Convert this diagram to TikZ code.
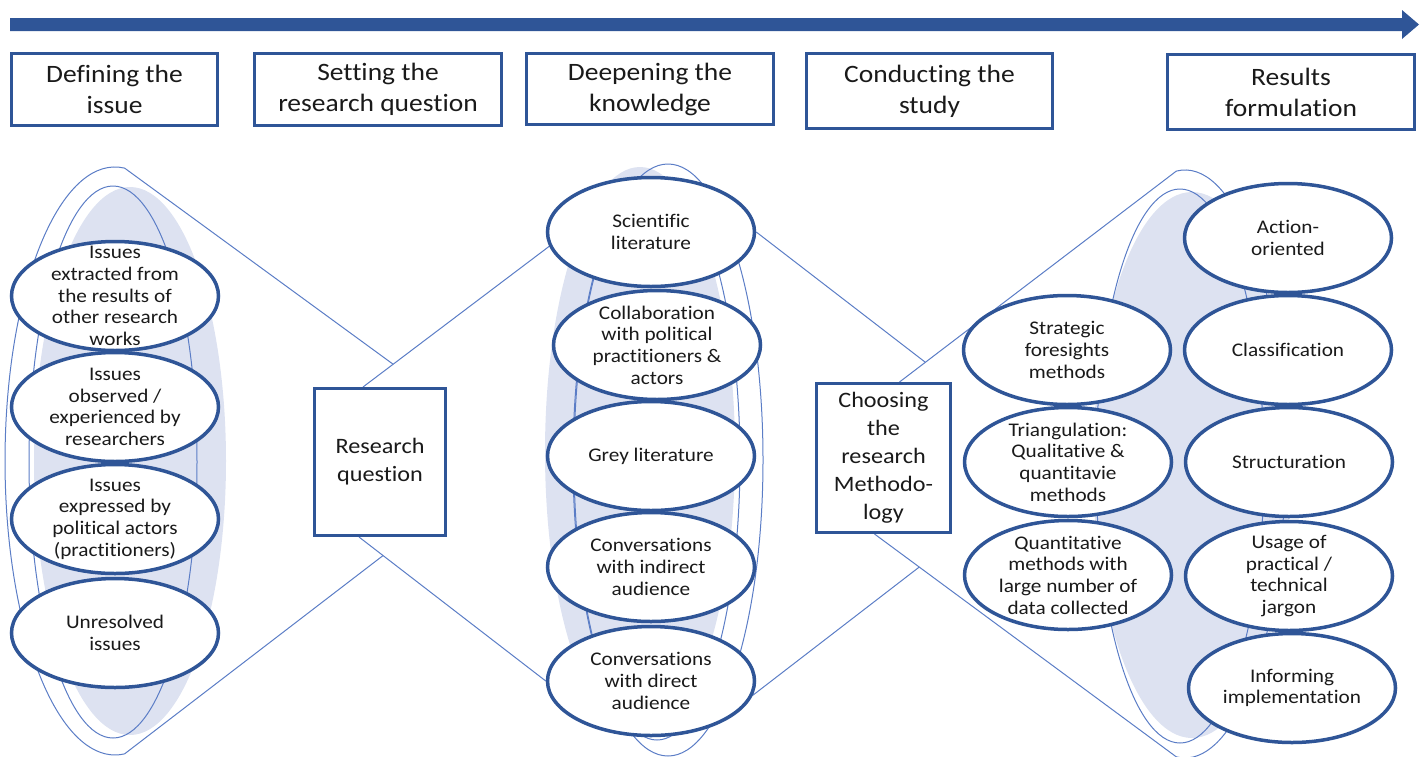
\documentclass[tikz,border=0pt]{standalone}
\usepackage{fontspec}
\setmainfont{Carlito}[FakeStretch=1.1, Ligatures=NoCommon]
\usetikzlibrary{shapes.geometric}
\definecolor{dkblue}{HTML}{2F5597}
\definecolor{thinblue}{HTML}{5B7DC6}
\definecolor{haze}{HTML}{DDE2F1}
\definecolor{ink}{HTML}{1A1A1A}
\pgfdeclarelayer{bg}
\pgfsetlayers{bg,main}
% an outlined bubble with its text set on top
\newcommand{\bubble}[3]{%
  \node[item] (#1) at (#2) {};
  \node[itemtext] at (#1.center) {#3};}
\begin{document}
\begin{tikzpicture}[x=1pt,y=-1pt,
  stagebox/.style={draw=dkblue, line width=3pt, fill=white, align=center,
    inner sep=0pt, text=ink, font=\fontsize{25}{31}\selectfont},
  stepbox/.style={draw=dkblue, line width=3pt, fill=white, align=center,
    inner sep=0pt, text=ink, font=\fontsize{22}{28}\selectfont},
  item/.style={ellipse, draw=dkblue, line width=3.5pt, fill=white,
    inner sep=0pt, minimum width=207pt, minimum height=109pt},
  itemtext/.style={align=center, inner sep=0pt, text=ink,
    font=\fontsize{19.3}{21.7}\selectfont},
  guide/.style={draw=thinblue, line width=1pt},
  halo/.style={fill=haze}]
\useasboundingbox (0,0) rectangle (1424,756);

% timeline arrow
\fill[dkblue] (10,18) -- (1402,18) -- (1402,10) -- (1419,24.5)
  -- (1402,39) -- (1402,31) -- (10,31) -- cycle;

% stage headings
\node[stagebox, minimum width=206pt, minimum height=72pt] (s1) at (114.5,89.5) {Defining the\\issue};
\node[stagebox, minimum width=247pt, minimum height=72pt] (s2) at (378,89.5) {Setting the\\research question};
\node[stagebox, minimum width=247pt, minimum height=71pt] (s3) at (650,89) {Deepening the\\knowledge};
\node[stagebox, minimum width=246pt, minimum height=75pt] (s4) at (929.5,91) {Conducting the\\study};
\node[stagebox, minimum width=247pt, minimum height=75pt] (s5) at (1291,92) {Results\\formulation};

% pivot boxes
\node[stepbox, minimum width=131pt, minimum height=147pt] (rq) at (380,462) {Research\\question};
\node[stepbox, minimum width=134pt, minimum height=149pt] (ch) at (883.5,458) {Choosing\\the\\research\\Methodo-\\logy};

% sources of issues
\bubble{i1}{115,296}{Issues\\extracted from\\the results of\\other research\\works}
\bubble{i2}{115,407}{Issues\\observed /\\experienced by\\researchers}
\bubble{i3}{115,519}{Issues\\expressed by\\political actors\\(practitioners)}
\bubble{i4}{115,633}{Unresolved\\issues}

% knowledge sources
\bubble{sci}{651,232}{Scientific\\literature}
\bubble{col}{657,345}{Collaboration\\with political\\practitioners \&\\actors}
\bubble{grey}{651,456}{Grey literature}
\bubble{convi}{651,567}{Conversations\\with indirect\\audience}
\bubble{convd}{651,681}{Conversations\\with direct\\audience}

% methodologies
\bubble{strat}{1067,350}{Strategic\\foresights\\methods}
\bubble{tri}{1068,462}{Triangulation:\\Qualitative \&\\quantitavie\\methods}
\bubble{quant}{1068,575}{Quantitative\\methods with\\large number of\\data collected}

% result qualities
\bubble{act}{1288,238}{Action-\\oriented}
\bubble{cls}{1288,350}{Classification}
\bubble{str}{1289,462}{Structuration}
\bubble{use}{1289,576}{Usage of\\practical /\\technical\\jargon}
\bubble{inf}{1292,688}{Informing\\implementation}

% funnel anchor points
\coordinate (aLtop) at (124.6,168.1);
\coordinate (aLbot) at (124.6,753.9);
\coordinate (dirA) at (260,267);
\coordinate (dirB) at (260,650);
\coordinate (rqUp) at ([xshift=-17pt]rq.north);
\coordinate (rqDn) at ([xshift=-21pt]rq.south);
\coordinate (aRtop) at (1176.3,171.1);
\coordinate (aRbot) at (1176.3,756.9);
\coordinate (dirC) at (925,362);
\coordinate (dirD) at (918,568);
\coordinate (chUp) at ([xshift=16pt]ch.north);
\coordinate (chDn) at ([xshift=-9pt]ch.south);

\begin{pgfonlayer}{bg}
  % shaded backdrops
  \fill[halo] (130,461) ellipse [x radius=96pt, y radius=274pt];
  \fill[halo] (640,452) ellipse [x radius=95pt, y radius=285pt];
  \fill[halo] (1192,465) ellipse [x radius=99pt, y radius=273pt];
  % thin rings
  \draw[guide] (113,462) ellipse [x radius=84pt, y radius=276pt];
  \draw[guide] (657,460) ellipse [x radius=83pt, y radius=280pt];
  \draw[guide] (668,460) ellipse [x radius=95pt, y radius=296pt];
  \draw[guide] (1180,466) ellipse [x radius=84pt, y radius=277pt];
  % funnel into the research question
  \draw[guide] (intersection of aLtop--dirA and rqUp--sci.188) -- (aLtop)
    arc[start angle=85, end angle=275, x radius=110pt, y radius=294pt]
    -- (intersection of aLbot--dirB and rqDn--convd.west);
  \draw[guide] (rqUp) -- (sci.188);
  \draw[guide] (rqDn) -- (convd.west);
  % funnel into the methodology choice
  \draw[guide] (sci.east) -- (intersection of sci.east--dirC and chUp--aRtop);
  \draw[guide] (convd.352) -- (intersection of convd.352--dirD and chDn--aRbot);
  \draw[guide] (chUp) -- (aRtop)
    arc[start angle=95, end angle=-95, x radius=100pt, y radius=294pt]
    -- (chDn);
\end{pgfonlayer}
\end{tikzpicture}
\end{document}
